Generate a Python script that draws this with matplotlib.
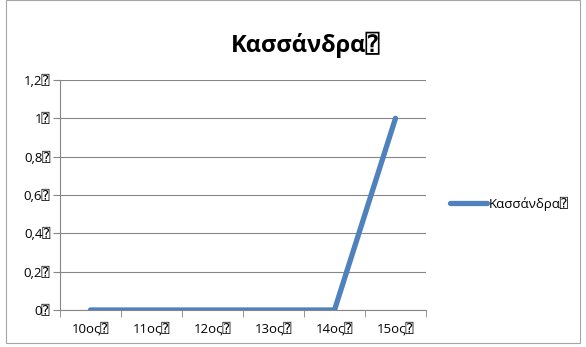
import matplotlib
matplotlib.use("Agg")
import matplotlib.pyplot as plt
from matplotlib.patches import Rectangle

plt.rcParams["font.family"] = ["Open Sans", "DejaVu Sans", "DejaVu Sans Mono"]

BOX = "\u2370"
categories = [f"{n}ος{BOX}" for n in range(10, 16)]
values = [0, 0, 0, 0, 0, 1]
yticks = [0, 0.2, 0.4, 0.6, 0.8, 1.0, 1.2]
ytick_labels = ["0" + BOX, "0,2" + BOX, "0,4" + BOX, "0,6" + BOX, "0,8" + BOX, "1" + BOX, "1,2" + BOX]
series_name = "Κασσάνδρα" + BOX
title = "Κασσάνδρα" + BOX

W, H = 586, 347
fig = plt.figure(figsize=(W / 100, H / 100), dpi=100)
fig.patches.append(Rectangle((6 / W, 4 / H), 574 / W, (H - 4) / H, transform=fig.transFigure,
                             fill=False, edgecolor="#a6a6a6", linewidth=0.8))

ax = fig.add_axes([60 / W, (H - 310) / H, 366 / W, 230 / H])
x = list(range(len(categories)))
ax.plot(x, values, color="#4f81bd", linewidth=3.8, solid_capstyle="round", label=series_name)

ax.set_xlim(-0.5, len(categories) - 0.5)
ax.set_ylim(0, 1.2)
ax.set_yticks(yticks)
ax.set_yticklabels(ytick_labels, fontsize=9.5)
ax.set_xticks(x)
ax.set_xticklabels(categories, fontsize=9.5)
ax.set_xticks([i - 0.5 for i in range(len(categories) + 1)], minor=True)
ax.tick_params(axis="x", which="major", length=0, pad=9)
ax.tick_params(axis="x", which="minor", length=5, color="#868686", direction="out")
ax.tick_params(axis="y", length=5, color="#868686", direction="out", pad=2)
ax.grid(axis="y", color="#868686", linewidth=0.8)
ax.set_axisbelow(True)
for side in ("top", "right"):
    ax.spines[side].set_visible(False)
for side in ("left", "bottom"):
    ax.spines[side].set_color("#868686")
    ax.spines[side].set_linewidth(0.8)

fig.text(306 / W, 1 - 45 / H, title, ha="center", va="center", fontsize=17, fontweight="bold")

fig.legend(loc="center left", bbox_to_anchor=(445 / W, 1 - 204 / H), frameon=False,
           fontsize=9.5, handlelength=2.8, handletextpad=0.1, borderaxespad=0)

fig.savefig("out.png", dpi=100)
